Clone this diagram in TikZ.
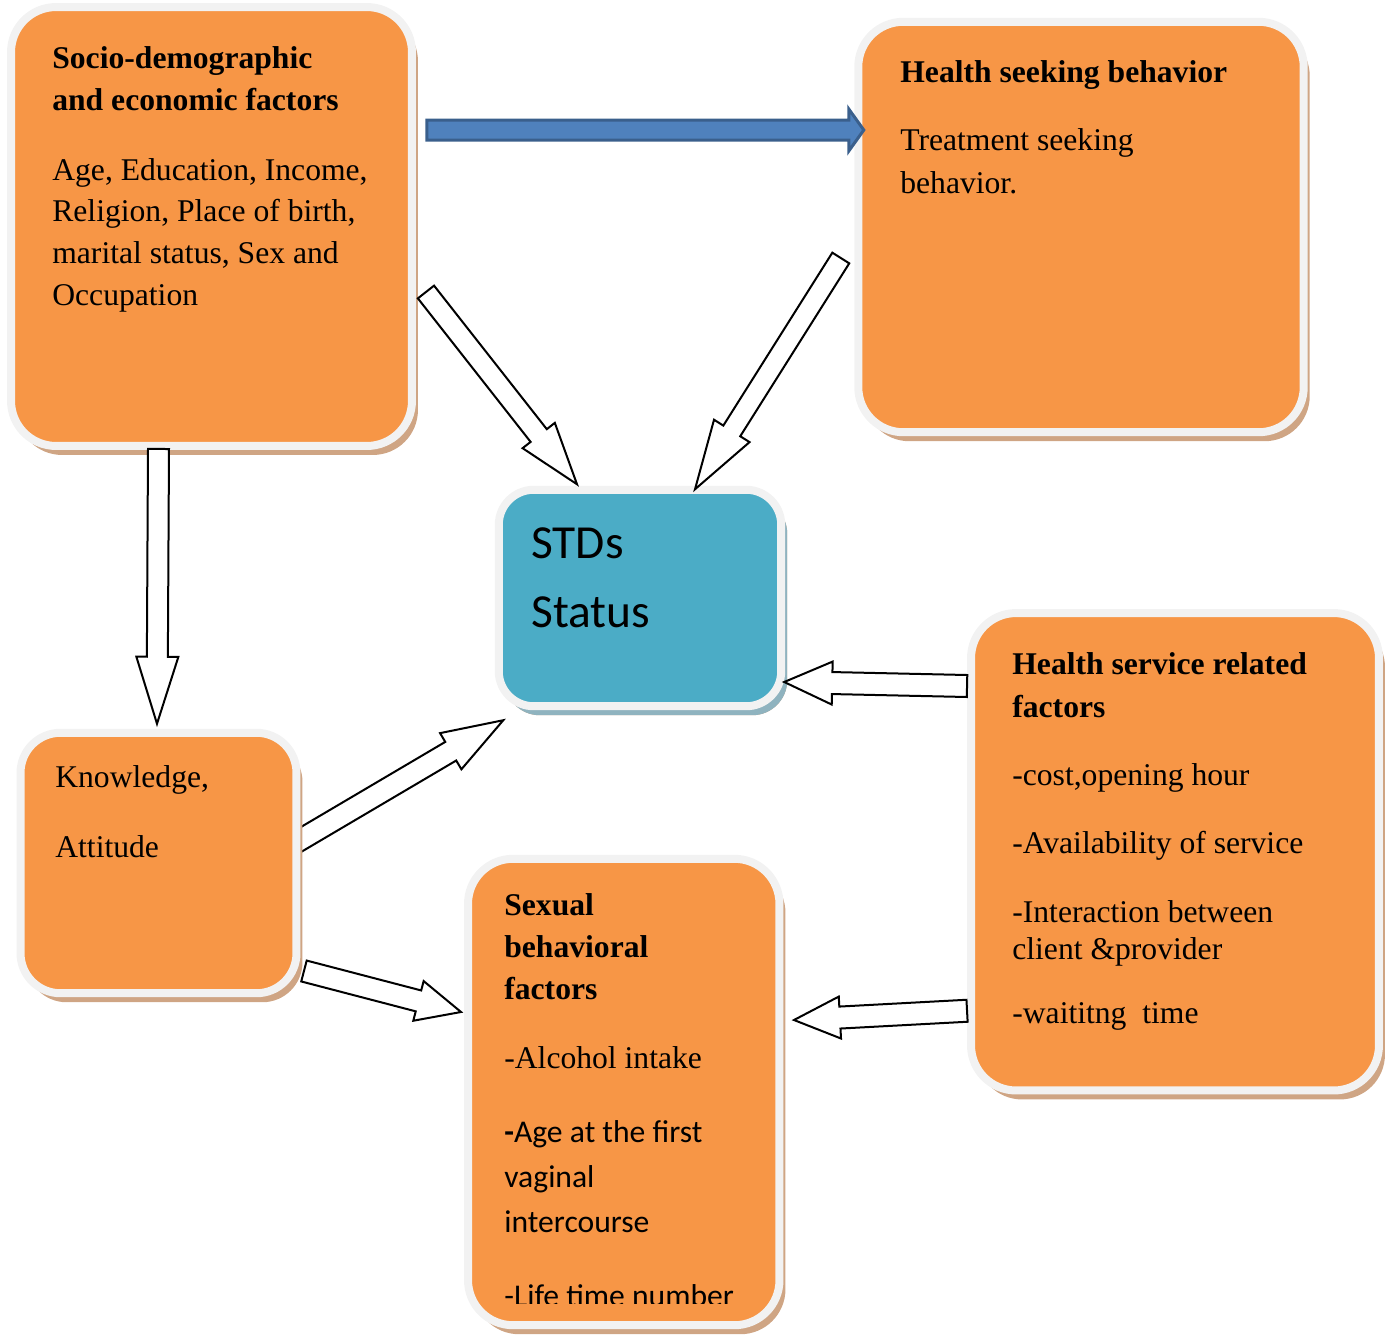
\documentclass[tikz,border=0pt]{standalone}
\usepackage{fontspec}
\setmainfont{Liberation Serif}
\newfontfamily\calibri{Carlito}
\usetikzlibrary{calc,shadows,backgrounds}

\definecolor{boxorange}{HTML}{F79646}
\definecolor{boxblue}{HTML}{4BACC6}
\definecolor{rimgray}{HTML}{F2F2F2}
\definecolor{shadowtan}{HTML}{CFA584}
\definecolor{shadowteal}{HTML}{8FB3BF}
\definecolor{arrowblue}{HTML}{4F81BD}
\definecolor{arrowrim}{HTML}{3A5F8C}

\tikzset{
  factorbox/.style={rectangle, rounded corners=0.9cm, fill=boxorange, draw=rimgray,
    line width=0.16cm, inner sep=0pt,
    drop shadow={shadow xshift=0.12cm, shadow yshift=-0.18cm, fill=shadowtan, opacity=1}},
  statusbox/.style={factorbox, rounded corners=0.7cm, fill=boxblue,
    drop shadow={shadow xshift=0.12cm, shadow yshift=-0.18cm, fill=shadowteal, opacity=1}},
  hollowarrow/.style={draw=black, fill=white, line width=0.04cm},
  bluearrow/.style={draw=arrowrim, fill=arrowblue, line width=0.06cm},
  headtext/.style={anchor=base west, inner sep=0pt, font=\fontsize{18}{22}\selectfont\bfseries},
  bodytext/.style={anchor=base west, inner sep=0pt, font=\fontsize{18}{22}\selectfont},
  sanstext/.style={anchor=base west, inner sep=0pt, font=\calibri\fontsize{18}{22}\selectfont},
  bigsans/.style={anchor=base west, inner sep=0pt, font=\calibri\fontsize{27}{32}\selectfont}
}

% block arrow: [style] tail, tip, half shaft, half head, head length
\newcommand{\blockarrow}[6][hollowarrow]{%
  \coordinate (bah) at ($(#3)!#6!(#2)$);
  \draw[#1] ($(#2)!#4!90:(#3)$) -- ($(bah)!#4!90:(#3)$) -- ($(bah)!#5!90:(#3)$)
    -- (#3) -- ($(bah)!#5!-90:(#3)$) -- ($(bah)!#4!-90:(#3)$)
    -- ($(#2)!#4!-90:(#3)$) -- cycle;
}

\begin{document}
\begin{tikzpicture}[x=0.02cm, y=-0.02cm]
    \useasboundingbox (0,0) rectangle (1387,1336);

    % Boxes
    \node[factorbox, minimum width=8.02cm, minimum height=8.78cm] (socio) at (211.5,226.5) {};
    \node[factorbox, minimum width=8.91cm, minimum height=8.21cm] (seeking) at (1081,227) {};
    \node[statusbox, minimum width=5.65cm, minimum height=4.33cm] (stds) at (640,598) {};
    \node[factorbox, minimum width=6.23cm, minimum height=9.33cm] (sexual) at (623.75,1092) {};
    \node[factorbox, minimum width=8.16cm, minimum height=9.55cm] (service) at (1175,851.75) {};
    \node[factorbox, rounded corners=0.8cm, minimum width=5.52cm, minimum height=5.21cm] (know) at (158.5,863) {};

    % Arrow whose tail hides under the knowledge box
    \begin{pgfonlayer}{background}
        \coordinate (know-up) at ($(know.east)+(-10.5,-17)$);
        \coordinate (stds-in1) at ($(stds.south west)+(8.5,10)$);
        \blockarrow{know-up}{stds-in1}{0.216cm}{0.42cm}{1.22cm}
    \end{pgfonlayer}

    % Arrows
    \coordinate (socio-r) at ($(socio.east)+(11,-96.5)$);
    \coordinate (seeking-l) at ($(seeking.west)+(9.5,-97)$);
    \blockarrow[bluearrow]{socio-r}{seeking-l}{0.2cm}{0.42cm}{0.3cm}

    \coordinate (socio-out) at ($(socio.east)+(10,65.5)$);
    \coordinate (stds-in2) at ($(stds.north)+(-63,-1.5)$);
    \blockarrow{socio-out}{stds-in2}{0.206cm}{0.41cm}{1.24cm}

    \coordinate (seeking-out) at ($(seeking.west)+(-13.5,31)$);
    \coordinate (stds-in3) at ($(stds.north)+(55,3.5)$);
    \blockarrow{seeking-out}{stds-in3}{0.2cm}{0.42cm}{1.38cm}

    \coordinate (socio-down) at ($(socio.south)+(-53,-1)$);
    \coordinate (know-in) at ($(know.north)+(-1.5,-5)$);
    \blockarrow{socio-down}{know-in}{0.21cm}{0.42cm}{1.34cm}

    \coordinate (know-down) at ($(know.east)+(3.5,108)$);
    \coordinate (sexual-in1) at ($(sexual.west)+(-3,-80)$);
    \blockarrow{know-down}{sexual-in1}{0.216cm}{0.41cm}{0.88cm}

    \coordinate (service-up) at ($(service.west)+(0,-165.75)$);
    \coordinate (stds-in4) at ($(stds.east)+(-1,84)$);
    \blockarrow{service-up}{stds-in4}{0.22cm}{0.43cm}{0.96cm}

    \coordinate (service-down) at ($(service.west)+(0,159)$);
    \coordinate (sexual-in2) at ($(sexual.east)+(10.5,-72)$);
    \blockarrow{service-down}{sexual-in2}{0.22cm}{0.42cm}{0.92cm}

    % Texts
    \node[headtext] (socio-t1) at (52,68) {Socio-demographic};
    \node[headtext] (socio-t2) at (52,110) {and economic factors};
    \foreach \yy/\tt [count=\i] in {180/{Age, Education, Income,}, 221/{Religion, Place of birth,},
        263/{marital status, Sex and}, 305/Occupation}
        \node[bodytext] (socio-b\i) at (52,\yy) {\tt};

    \node[headtext] (seeking-t) at (900,82) {Health seeking behavior};
    \node[bodytext] (seeking-b1) at (900,150) {Treatment seeking};
    \node[bodytext] (seeking-b2) at (900,193) {behavior.};

    \node[bigsans] (stds-t1) at (531,558) {STDs};
    \node[bigsans] (stds-t2) at (531,627) {Status};

    \node[bodytext] (know-b1) at (55,787) {Knowledge,};
    \node[bodytext] (know-b2) at (55,857) {Attitude};

    \node[headtext] (service-t1) at (1012,674) {Health service related};
    \node[headtext] (service-t2) at (1012,717) {factors};
    \foreach \yy/\tt [count=\i] in {785/{-cost,opening hour}, 853/-Availability of service,
        922/-Interaction between, 959/client \&provider, 1023/-waititng\ \ time}
        \node[bodytext] (service-b\i) at (1012,\yy) {\tt};

    \foreach \yy/\tt [count=\i] in {915/Sexual, 957/behavioral, 999/factors}
        \node[headtext] (sexual-t\i) at (504,\yy) {\tt};
    \node[bodytext] (sexual-b1) at (504,1068) {-Alcohol intake};
    \node[sanstext] (sexual-b2) at (504,1142) {\textbf{-}Age at the first};
    \node[sanstext] (sexual-b3) at (504,1187) {vaginal};
    \node[sanstext] (sexual-b4) at (504,1232) {intercourse};
    \begin{scope}
        \clip (470,860) rectangle (780,1303);
        \node[sanstext] (sexual-b5) at (504,1306) {-Life time number};
    \end{scope}
\end{tikzpicture}
\end{document}
